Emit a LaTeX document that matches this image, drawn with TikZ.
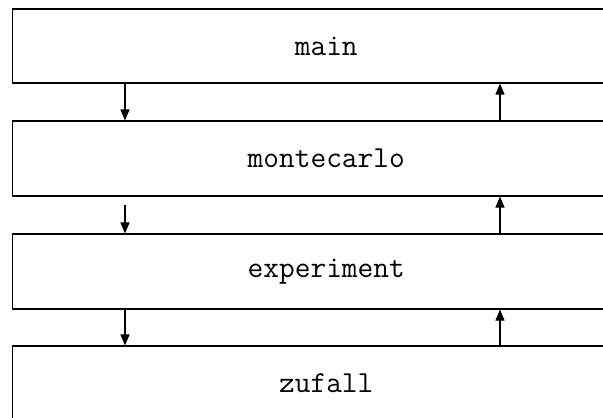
\documentclass[tikz,border=0pt]{standalone}
\usepackage{fontspec}
\usetikzlibrary{arrows.meta}
\begin{document}
\begin{tikzpicture}[x=1pt,y=1pt,
  layer/.style={draw=black, line width=1.1pt, fill=white, minimum width=627.5pt, inner sep=0pt,
    font=\fontsize{30.5}{30.5}\selectfont\ttfamily},
  arr/.style={line width=1.1pt, -{Triangle[length=11pt,width=9pt]}}]
\useasboundingbox (0,0) rectangle (603,-418);
\clip (0,0) rectangle (603,-418);
\fill[white] (0,0) rectangle (603,-418);
\node[layer, minimum height=74pt] (main) at (326.25,-46) {main};
\node[layer, minimum height=75pt] (mc) at (326.25,-158.5) {montecarlo};
\node[layer, minimum height=75pt] (ex) at (326.25,-271.5) {experiment};
\node[layer, minimum height=75pt] (zu) at (326.25,-383.5) {zufall};
\coordinate (dx) at (125,0);
\coordinate (ux) at (500,0);
\draw[arr] (main.south -| dx) -- (mc.north -| dx);
\draw[arr] ([yshift=-8pt]mc.south -| dx) -- (ex.north -| dx);
\draw[arr] (ex.south -| dx) -- (zu.north -| dx);
\draw[arr] (mc.north -| ux) -- (main.south -| ux);
\draw[arr] (ex.north -| ux) -- (mc.south -| ux);
\draw[arr] (zu.north -| ux) -- (ex.south -| ux);
\end{tikzpicture}
\end{document}
